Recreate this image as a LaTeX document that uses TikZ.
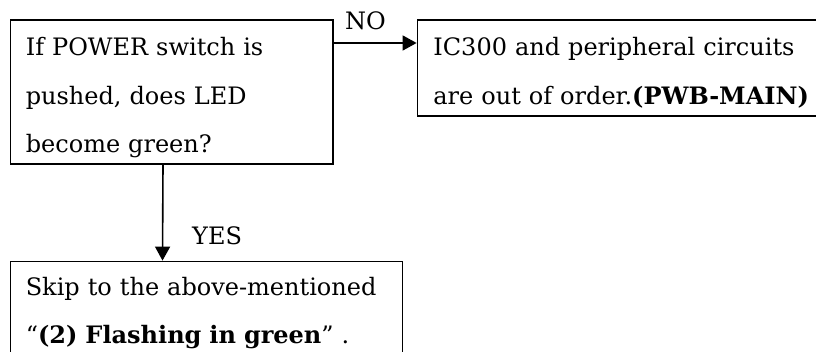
\documentclass[tikz,border=0pt]{standalone}
\usepackage{fontspec}
\setmainfont{DejaVu Serif}
\usepackage{tikz}
\usetikzlibrary{arrows.meta, positioning}

\begin{document}
\begin{tikzpicture}[
    box/.style={rectangle, draw=black, line width=1.6pt, anchor=north west,
                align=left, inner xsep=15.5pt, inner ysep=0pt,
                font=\fontsize{24}{48.5}\selectfont},
    arrow/.style={-{Triangle[length=14pt, width=15pt]}, line width=1.6pt},
    answer/.style={font=\fontsize{24}{28}\selectfont, inner sep=0pt, anchor=base west},
]
    \useasboundingbox (0,0) rectangle (816pt,-352pt);

    \node[box, text width=291.5pt, text height=36pt, text depth=108pt] (query) at (9.5pt,-19pt)
        {If POWER switch is\\pushed, does LED\\become green?};
    \node[box, right=83pt of query.north east, anchor=north west, inner xsep=16pt,
          text width=368pt, text height=36pt, text depth=60pt] (fault)
        {\mbox{IC300 and peripheral circuits}\\\mbox{are out of order.\textbf{(PWB-MAIN)}}};
    \node[box, below=96pt of query.south west, anchor=north west,
          text width=361pt, text height=34pt, text depth=120pt] (skip)
        {Skip to the above-mentioned\\``\textbf{(2) Flashing in green}'' .};

    \draw[arrow] ([yshift=-24pt]query.north east) -- ([yshift=-24pt]fault.north west);
    \draw[arrow] ([xshift=153.5pt]query.south west) -- ([xshift=153pt]skip.north west);

    % Answers
    \node[answer] (no) at (345pt,-30pt) {NO};
    \node[answer] (yes) at (192pt,-245pt) {YES};
\end{tikzpicture}
\end{document}
